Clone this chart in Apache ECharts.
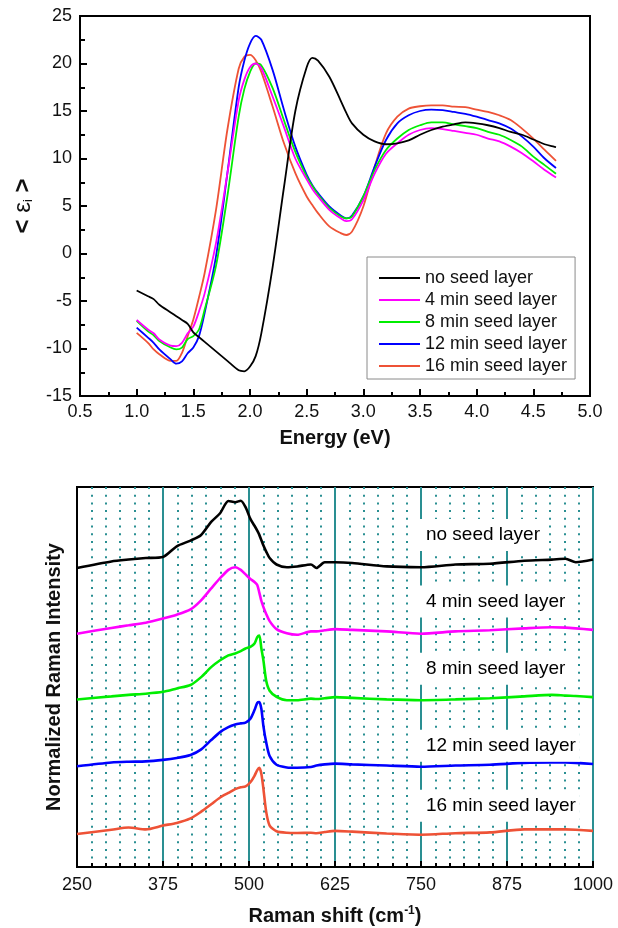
<!DOCTYPE html>
<html>
<head>
<meta charset="utf-8">
<script src="https://cdn.jsdelivr.net/npm/echarts@6/dist/echarts.min.js"></script>
<style>html,body{margin:0;padding:0;background:#fff}#c{width:618px;height:928px}</style>
</head>
<body>
<div id="c"></div>
<script>
// ---- Top panel: <eps_i> vs Energy ----
var energy = [1.0,1.1,1.15,1.2,1.3,1.35,1.4,1.45,1.5,1.55,1.6,1.7,1.8,1.9,1.95,2.0,2.05,2.1,2.2,2.3,2.4,2.5,2.55,2.6,2.7,2.8,2.85,2.9,3.0,3.1,3.2,3.3,3.4,3.5,3.6,3.7,3.8,3.9,4.0,4.1,4.2,4.3,4.4,4.5,4.6,4.7];
var epsNoSeed = [-3.9,-4.5,-4.8,-5.4,-6.2,-6.6,-7.0,-7.4,-8.3,-8.8,-9.3,-10.3,-11.3,-12.3,-12.4,-11.9,-10.8,-8.4,-1.4,7.0,15.0,19.6,20.6,20.3,18.6,16.1,14.8,13.7,12.5,11.8,11.5,11.6,11.9,12.5,13.0,13.35,13.6,13.8,13.7,13.5,13.2,12.8,12.5,12.0,11.5,11.2];
var eps4min = [-7.0,-8.0,-8.4,-9.05,-9.7,-9.75,-9.4,-8.4,-7.7,-6.1,-4.2,1.1,8.4,16.1,18.3,19.6,20.0,19.5,16.5,13.3,10.0,7.8,6.8,6.0,4.6,3.7,3.4,3.6,5.6,8.4,10.5,11.6,12.5,13.0,13.2,13.1,12.9,12.7,12.5,12.1,11.8,11.25,10.55,9.7,8.8,8.0];
var eps8min = [-7.1,-8.2,-8.6,-9.2,-9.9,-10.1,-9.9,-9.0,-8.7,-8.0,-5.9,-1.3,6.0,14.4,17.3,19.1,20.0,19.8,17.4,14.0,10.7,8.1,7.1,6.2,4.8,3.9,3.7,3.9,6.0,8.8,10.9,12.1,13.0,13.5,13.8,13.8,13.6,13.4,13.2,12.8,12.5,11.95,11.25,10.2,9.3,8.4];
var eps12min = [-7.8,-8.85,-9.4,-10.1,-11.15,-11.6,-11.35,-10.5,-9.9,-8.7,-6.25,-0.3,8.4,17.5,20.3,22.1,22.9,22.5,19.3,15.1,11.25,8.3,7.2,6.35,4.95,4.0,3.7,4.0,6.0,9.15,11.95,13.7,14.55,15.0,15.15,15.1,14.9,14.7,14.4,14.05,13.7,13.15,12.3,11.25,10.0,9.0];
var eps16min = [-8.35,-9.4,-10.1,-10.6,-11.3,-11.3,-10.45,-8.7,-6.95,-4.6,-2.05,4.6,13.0,19.45,20.7,20.9,20.35,19.1,15.45,11.6,8.45,6.0,5.1,4.25,2.85,2.15,1.95,2.3,4.95,9.15,12.65,14.4,15.25,15.5,15.6,15.6,15.45,15.4,15.15,14.9,14.55,14.05,13.15,12.1,10.9,9.75];
var energyTicks = {min: 0.5, max: 5.0, step: 0.5};
var epsTicks = {min: -15, max: 25, step: 5};

// ---- Bottom panel: Raman spectra (stacked, arbitrary units) ----
var raman = [250,300,325,350,375,395,415,430,445,458,470,480,488,495,502,508,512,515,518,521,525,530,540,555,570,590,598,610,625,650,700,750,800,850,900,940,960,975,1000];
var ramNoSeed = [78.7,80.4,80.9,81.3,81.6,84.4,85.9,87.3,90.8,93.1,96.3,96.0,96.4,94.7,91.6,89.8,88.5,87.4,86.0,84.6,83.0,81.3,79.6,78.9,79.1,79.6,78.7,80.2,80.2,80.0,79.1,78.9,79.6,79.8,80.6,80.9,81.1,80.2,80.9];
var ram4min = [61.4,62.9,63.6,64.3,65.4,66.4,67.8,70.1,73.3,76.0,78.2,78.9,78.2,77.0,75.8,75.0,74.2,72.2,70.0,68.4,66.6,64.7,62.6,61.5,61.1,62.0,62.0,62.3,62.6,62.4,62.0,61.4,62.0,62.3,62.8,63.1,63.0,62.8,62.4];
var ram8min = [44.1,44.9,45.3,45.6,46.1,47.0,47.9,49.9,52.6,54.4,55.7,56.2,56.8,57.5,57.9,58.8,60.5,60.9,57.5,54.3,49.0,46.4,44.8,43.9,43.9,44.3,44.2,44.4,44.7,44.5,44.1,43.9,44.1,44.4,44.9,45.3,45.1,45.0,44.7];
var ram12min = [26.5,27.5,27.7,27.8,28.2,28.7,29.5,30.9,33.4,35.5,36.8,37.5,37.8,38.0,39.0,41.3,43.2,43.4,41.6,37.0,32.8,29.2,26.9,26.2,26.1,26.3,26.7,27.0,27.2,27.0,26.7,26.4,26.7,26.9,27.4,27.5,27.5,27.4,27.1];
var ram16min = [8.7,9.8,10.4,9.9,10.9,11.6,12.8,14.5,16.5,18.3,19.5,20.5,21.0,21.2,22.3,24.0,25.5,26.1,24.5,20.5,14.5,10.9,9.4,9.0,8.95,9.0,8.9,9.2,9.5,9.3,8.8,8.5,8.9,9.1,9.9,9.9,9.9,9.8,9.5];
var ramanTicks = {min: 250, max: 1000, step: 125};
var ramanIntensityRange = {min: 0, max: 100};

// ---- names / colours ----
var seriesNames = ['no seed layer','4 min seed layer','8 min seed layer','12 min seed layer','16 min seed layer'];
var seriesColors = ['#000000','#ff00ff','#00ee00','#0000ff','#ee5236'];
var labelShift = [747,747,747,747,747];
var labelLevel = [87.4,69.9,52.2,31.9,16.1];

var epsData = [epsNoSeed, eps4min, eps8min, eps12min, eps16min];
var ramData = [ramNoSeed, ram4min, ram8min, ram12min, ram16min];

function zip(xs, ys){ return xs.map(function(x,i){ return [x, ys[i]]; }); }

var FONT = '"Liberation Sans", Arial, sans-serif';
var TXT = '#111111';
var TEAL = '#2a8f92';

var series = [];
epsData.forEach(function(d, i){
  series.push({
    name: seriesNames[i], type: 'line', xAxisIndex: 0, yAxisIndex: 0,
    data: zip(energy, d), symbol: 'none', smooth: 0.3,
    lineStyle: {color: seriesColors[i], width: 1.8}, itemStyle: {color: seriesColors[i]},
    z: 10 - i
  });
});
ramData.forEach(function(d, i){
  series.push({
    name: 'Raman ' + seriesNames[i], type: 'line', xAxisIndex: 1, yAxisIndex: 1,
    data: zip(raman, d), symbol: 'none', smooth: 0.25,
    lineStyle: {color: seriesColors[i], width: 2.6}, itemStyle: {color: seriesColors[i]},
    z: 5
  });
});
series.push({
  name: 'labels', type: 'scatter', xAxisIndex: 1, yAxisIndex: 1,
  symbolSize: 0, silent: true, z: 8,
  itemStyle: {opacity: 1},
  data: seriesNames.map(function(n, i){ return {value: [labelShift[i], labelLevel[i]], name: n}; }),
  label: {
    show: true, position: 'right', distance: 0,
    formatter: function(p){ return p.name; },
    fontFamily: FONT, fontSize: 19, color: '#000',
    backgroundColor: '#ffffff', padding: [7, 4, 6, 7]
  }
});

var chart = echarts.init(document.getElementById('c'), null, {renderer: 'canvas'});
chart.setOption({
  backgroundColor: '#ffffff',
  animation: false,
  textStyle: {fontFamily: FONT},
  grid: [
    {left: 80, top: 16, width: 510, height: 380, show: true, borderColor: '#000', borderWidth: 2, backgroundColor: 'transparent'},
    {left: 77, top: 487, width: 516, height: 380, show: true, borderColor: '#000', borderWidth: 2, backgroundColor: 'transparent'}
  ],
  legend: {
    data: seriesNames, orient: 'vertical', left: 367, top: 257,
    padding: [12, 8, 4, 12], itemWidth: 41, itemHeight: 2, itemGap: 4,
    icon: 'rect',
    borderColor: '#8a8a8a', borderWidth: 1, backgroundColor: '#fff',
    textStyle: {fontFamily: FONT, fontSize: 18, lineHeight: 18, color: TXT}
  },
  xAxis: [
    {
      gridIndex: 0, type: 'value', min: energyTicks.min, max: energyTicks.max, interval: energyTicks.step,
      name: 'Energy (eV)', nameLocation: 'middle', nameGap: 32,
      nameTextStyle: {fontFamily: FONT, fontSize: 20, fontWeight: 'bold', color: TXT},
      axisLine: {onZero: false, lineStyle: {color: '#000', width: 2}},
      axisTick: {inside: true, length: 7, lineStyle: {color: '#000', width: 2}},
      minorTick: {show: true, splitNumber: 2, length: 4, lineStyle: {color: '#000', width: 2}},
      axisLabel: {fontFamily: FONT, fontSize: 18, color: TXT, margin: 7, formatter: function(v){ return v.toFixed(1); }},
      splitLine: {show: false}
    },
    {
      gridIndex: 1, type: 'value', min: ramanTicks.min, max: ramanTicks.max, interval: ramanTicks.step,
      name: '{t|Raman shift (cm}{s|-1}{t|)}', nameLocation: 'middle', nameGap: 38,
      nameTextStyle: {
        rich: {
          t: {fontFamily: FONT, fontSize: 20, fontWeight: 'bold', color: TXT},
          s: {fontFamily: FONT, fontSize: 12, fontWeight: 'bold', color: TXT, verticalAlign: 'top', padding: [0, 0, 10, 0]}
        }
      },
      axisLine: {onZero: false, lineStyle: {color: '#000', width: 2}},
      axisTick: {inside: true, length: 6, lineStyle: {color: '#000', width: 2}},
      minorTick: {show: true, splitNumber: 6, length: 4, lineStyle: {color: '#000', width: 2}},
      axisLabel: {fontFamily: FONT, fontSize: 18, color: TXT, margin: 9, formatter: function(v){ return String(v); }},
      splitLine: {show: true, lineStyle: {color: TEAL, width: 2}},
      minorSplitLine: {show: true, lineStyle: {color: TEAL, width: 2, type: [2, 5.7]}}
    }
  ],
  yAxis: [
    {
      gridIndex: 0, type: 'value', min: epsTicks.min, max: epsTicks.max, interval: epsTicks.step,
      name: '{b|<}{e| ε}{i|i}{b| >}', nameLocation: 'middle', nameGap: 42, nameRotate: 90,
      nameTextStyle: {
        rich: {
          b: {fontFamily: FONT, fontSize: 24, fontWeight: 'bold', color: TXT},
          e: {fontFamily: FONT, fontSize: 24, color: TXT},
          i: {fontFamily: FONT, fontSize: 13, color: TXT, verticalAlign: 'bottom', padding: [8, 0, 0, 0]}
        }
      },
      axisLine: {onZero: false, lineStyle: {color: '#000', width: 2}},
      axisTick: {inside: true, length: 7, lineStyle: {color: '#000', width: 2}},
      minorTick: {show: true, splitNumber: 2, length: 5, lineStyle: {color: '#000', width: 2}},
      axisLabel: {fontFamily: FONT, fontSize: 18, color: TXT, margin: 8},
      splitLine: {show: false}
    },
    {
      gridIndex: 1, type: 'value', min: ramanIntensityRange.min, max: ramanIntensityRange.max,
      name: 'Normalized Raman Intensity', nameLocation: 'middle', nameGap: 13, nameRotate: 90,
      nameTextStyle: {fontFamily: FONT, fontSize: 20, fontWeight: 'bold', color: TXT},
      axisLine: {onZero: false, lineStyle: {color: '#000', width: 2}},
      axisTick: {show: false}, axisLabel: {show: false},
      splitLine: {show: false}
    }
  ],
  series: series
});
</script>
</body>
</html>
